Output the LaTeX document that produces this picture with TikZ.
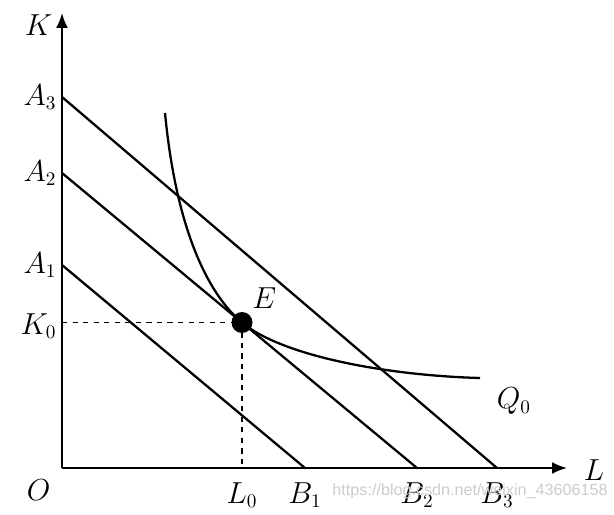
\documentclass[tikz,border=0pt]{standalone}
\usepackage{amsmath, amssymb}
\usepackage{fontspec}
\usepackage{tikz}
\usetikzlibrary{arrows.meta, positioning}
\newfontfamily\wmfont{Liberation Sans}

\begin{document}
\begin{tikzpicture}[
    font=\fontsize{16}{19}\selectfont,
    axis/.style={line width=1.1pt, -{Latex[length=3mm, width=2.4mm]}},
    budget/.style={line width=1.3pt},
    guide/.style={line width=0.9pt, dashed},
    isoq/.style={line width=1.3pt},
    eqdot/.style={circle, fill=black, minimum size=0.42cm, inner sep=0pt},
    tick/.style={inner sep=2pt}
]
    \useasboundingbox (-1.24,-0.92) rectangle (11.04,9.36);

    % --- Coordinates ---
    % Axes
    \coordinate (origin) at (0, 0);
    \coordinate (k_tip)  at (0, 9.1);
    \coordinate (l_tip)  at (10.1, 0);

    % Isocost lines
    \coordinate (a3) at (0, 7.42);
    \coordinate (b3) at (8.7, 0);
    \coordinate (a2) at (0, 5.9);
    \coordinate (b2) at (7.1, 0);
    \coordinate (a1) at (0, 4.06);
    \coordinate (b1) at (4.86, 0);

    % Equilibrium
    \coordinate (eq) at (3.6, 2.91);
    \coordinate (k0) at (0, 2.91);
    \coordinate (l0) at (3.6, 0);

    % Isoquant ends
    \coordinate (q_start) at (2.06, 7.1);
    \coordinate (q_end)   at (8.36, 1.8);

    % --- Axes ---
    \draw[axis] (origin) -- (k_tip);
    \draw[axis] (origin) -- (l_tip);

    % --- Isocost lines ---
    \draw[budget] (a3) -- (b3);
    \draw[budget] (a2) -- (b2);
    \draw[budget] (a1) -- (b1);

    % --- Guides to E ---
    \draw[guide] (k0) -- (eq) -- (l0);

    % --- Isoquant ---
    \draw[isoq] (q_start) .. controls (2.3, 4.6) and (3.0, 3.41) .. (eq)
                          .. controls (4.4, 2.24) and (6.5, 1.85) .. (q_end);

    \node[eqdot] (e_dot) at (eq) {};

    % --- Labels ---
    \node[left=2pt of k_tip, yshift=-7pt] (lab_k) {$K$};
    \node[right=6pt of l_tip, yshift=-1pt] (lab_l) {$L$};
    \node[below left=3pt and 3pt of origin] (lab_o) {$O$};

    \node[tick, left=1pt of a3] (lab_a3) {$A_3$};
    \node[tick, left=1pt of a2] (lab_a2) {$A_2$};
    \node[tick, left=1pt of a1] (lab_a1) {$A_1$};
    \node[tick, left=1pt of k0, yshift=-2pt] (lab_k0) {$K_0$};

    \node[tick, below=6pt of l0] (lab_l0) {$L_0$};
    \node[tick, below=6pt of b1] (lab_b1) {$B_1$};
    \node[tick, below=6pt of b2] (lab_b2) {$B_2$};
    \node[tick, below=6pt of b3] (lab_b3) {$B_3$};

    \node[above right=0pt and -2pt of e_dot] (lab_e) {$E$};
    \node[below right=2pt and 6pt of q_end] (lab_q) {$Q_0$};

    % watermark
    \node[text=gray!40, font=\wmfont\fontsize{9.2}{11}\selectfont] (wm) at (8.16,-0.46) {https://blog.csdn.net/weixin\_43606158};

\end{tikzpicture}
\end{document}
